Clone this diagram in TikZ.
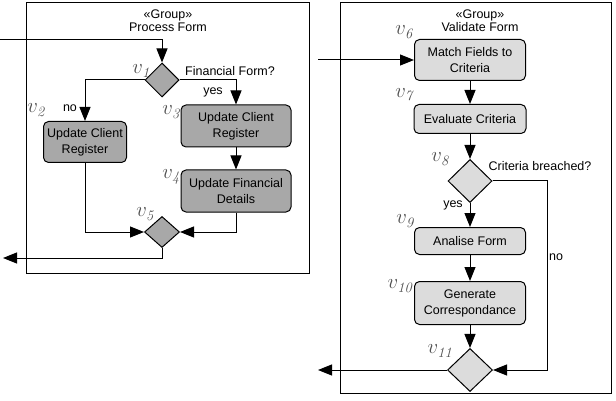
\documentclass[tikz,border=0pt]{standalone}
\usepackage[no-math]{fontspec}
\setmainfont{Liberation Sans}
\usetikzlibrary{arrows.meta,shapes.geometric}
\definecolor{darkfill}{HTML}{A8A8A8}
\definecolor{lightfill}{HTML}{DCDCDC}
\definecolor{vgray}{HTML}{505050}
\begin{document}
\begin{tikzpicture}[x=1pt,y=-1pt,line width=1pt,
	every node/.style={font=\fontsize{12.5}{16}\selectfont},
	act/.style={draw,rounded corners=5pt,align=center,inner sep=0pt},
	dec/.style={draw,diamond,inner sep=0pt},
	vlab/.style={text=vgray,font=\fontsize{21}{21}\selectfont},
	arr/.style={-{Triangle[length=14pt,width=11pt]}}]
	\useasboundingbox(0,0)rectangle(616,401);
	% group frames
	\draw(26,3)rectangle(309,273);
	\draw(340,3)rectangle(611,393);
	\node[align=center,font=\fontsize{12.5}{13}\selectfont](g1)at(168,21){«Group»\\Process Form};
	\node[align=center,font=\fontsize{12.5}{13}\selectfont](g2)at(480,21){«Group»\\Validate Form};
	\coordinate(in1)at(0,40);
	\coordinate(out1)at(3,258);
	\coordinate(in2)at(318,60);
	\coordinate(out2)at(318,370);
	% process form
	\node[dec,fill=darkfill,minimum width=34pt,minimum height=34pt](v1)at(162,80){};
	\node[act,fill=darkfill,minimum width=83pt,minimum height=41pt](v2)at(85,142){Update Client\\Register};
	\node[act,fill=darkfill,minimum width=110pt,minimum height=42pt](v3)at(236,126){Update Client\\Register};
	\node[act,fill=darkfill,minimum width=110pt,minimum height=42pt](v4)at(236,191){Update Financial\\Details};
	\node[dec,fill=darkfill,minimum width=35pt,minimum height=31pt](v5)at(162,232){};
	% validate form
	\node[act,fill=lightfill,minimum width=111pt,minimum height=41pt](v6)at(470,60){Match Fields to\\Criteria};
	\node[act,fill=lightfill,minimum width=112pt,minimum height=29pt](v7)at(470,119){Evaluate Criteria};
	\node[dec,fill=lightfill,minimum width=44pt,minimum height=43pt](v8)at(470,181){};
	\node[act,fill=lightfill,minimum width=111pt,minimum height=27pt](v9)at(470,241){Analise Form};
	\node[act,fill=lightfill,minimum width=111pt,minimum height=43pt](v10)at(470,303){Generate\\Correspondance};
	\node[dec,fill=lightfill,minimum width=45pt,minimum height=43pt](v11)at(470,370){};
	% vertex labels
	\node[vlab]at(142,71){$v_{\mathit{1}}$};
	\node[vlab]at(37,110){$v_{\mathit{2}}$};
	\node[vlab]at(172,112){$v_{\mathit{3}}$};
	\node[vlab]at(172,177){$v_{\mathit{4}}$};
	\node[vlab]at(146,214){$v_{\mathit{5}}$};
	\node[vlab]at(405,32){$v_{\mathit{6}}$};
	\node[vlab]at(405,96){$v_{\mathit{7}}$};
	\node[vlab]at(441,159){$v_{\mathit{8}}$};
	\node[vlab]at(406,221){$v_{\mathit{9}}$};
	\node[vlab]at(401,286){$v_{\mathit{10}}$};
	\node[vlab]at(441,351){$v_{\mathit{11}}$};
	% guards
	\node at(230,71){Financial Form?};
	\node at(70,108){no};
	\node at(213,92){yes};
	\node at(540,166){Criteria breached?};
	\node at(453,205){yes};
	\node at(556,257){no};
	% flows
	\draw[arr](in1)-|(v1);
	\draw[arr](v1.west)-|(v2.north);
	\draw[arr](v1.east)-|(v3.north);
	\draw[arr](v3)--(v4);
	\draw[arr](v2.south)|-(v5.west);
	\draw[arr](v4.south)|-(v5.east);
	\draw[arr](v5.south)|-(out1);
	\draw[arr](in2)--(v6);
	\foreach\a/\b in{v6/v7,v7/v8,v8/v9,v9/v10,v10/v11}{\draw[arr](\a)--(\b);}
	\draw[arr](v8.east)--++(55,0)|-(v11.east);
	\draw[arr](v11.west)--(out2);
\end{tikzpicture}
\end{document}
